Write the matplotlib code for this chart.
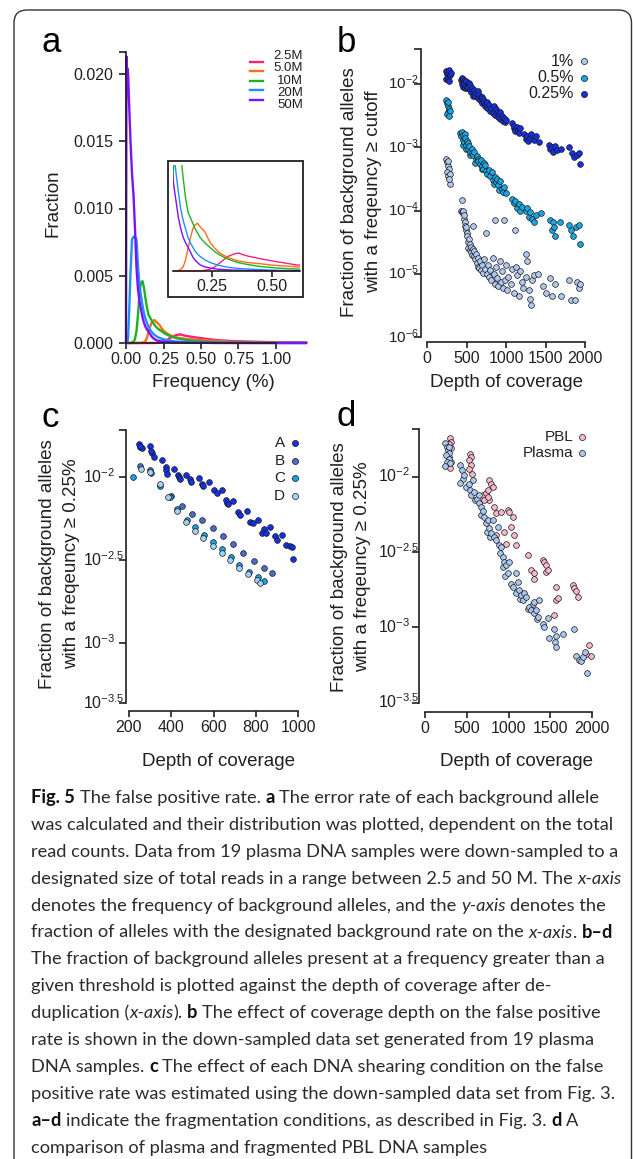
import re
import matplotlib
matplotlib.use("Agg")
import matplotlib.pyplot as plt
from matplotlib.patches import FancyBboxPatch, Rectangle
from matplotlib.lines import Line2D
from matplotlib.ticker import NullLocator
from matplotlib.transforms import blended_transform_factory, ScaledTranslation

# ---------------- data ----------------
# panel a: fraction of background alleles vs. allele frequency (%)
freq_pct = [0, 0.003, 0.006, 0.010, 0.014, 0.02, 0.03, 0.04, 0.05, 0.06, 0.07, 0.08,
            0.09, 0.10, 0.11, 0.12, 0.13, 0.14, 0.15, 0.16, 0.17, 0.18, 0.19, 0.20,
            0.22, 0.24, 0.26, 0.28, 0.30, 0.32, 0.34, 0.36, 0.38, 0.40, 0.45, 0.50,
            0.55, 0.60, 0.70, 0.80, 0.90, 1.00, 1.10, 1.20]
frac_2_5M = [0, 0, 0, 0, 0, 0, 0, 0, 0, 0, 0, 0, 0, 0, 0, 0, 0, 0, 0, 0, 0, 0, 0, 0.00001,
             0.00002, 0.00006, 0.00014, 0.00027, 0.00041, 0.00053, 0.0006, 0.00064, 0.00058, 0.00053,
             0.00044, 0.00036, 0.00029, 0.00022, 0.00015, 0.00011, 0.00008, 0.00006, 0.00004, 0.00003]
frac_5_0M = [0, 0, 0, 0, 0, 0, 0, 0, 0, 0, 0, 0, 0, 0, 0.00002, 0.00006, 0.00015, 0.0004, 0.0008,
             0.00118, 0.0015, 0.00165, 0.0017, 0.00158,
             0.0014, 0.00105, 0.00082, 0.00066, 0.00055, 0.00047, 0.00041, 0.00036, 0.00033, 0.0003,
             0.00026, 0.00021, 0.00018, 0.00015, 0.0001, 0.00007, 0.00005, 0.00004, 0.00003, 0.00002]
frac_10M = [0, 0, 0, 0, 0, 0, 0, 0.00005, 0.0001, 0.0003, 0.0009, 0.0021, 0.0037, 0.0045, 0.0046,
            0.0041, 0.0033, 0.0026, 0.0021, 0.0019, 0.0017, 0.0015, 0.00135, 0.0012,
            0.001, 0.00085, 0.0007, 0.00058, 0.00049, 0.00041, 0.00035, 0.0003, 0.00026, 0.00023,
            0.00016, 0.00012, 0.00009, 0.00007, 0.00004, 0.00003, 0.00002, 0.00001, 0.00001, 0.00001]
frac_20M = [0, 0, 0, 0.0001, 0.0004, 0.0020, 0.0052, 0.0077, 0.0079, 0.0079, 0.0077, 0.0057, 0.0043,
            0.0035, 0.0028, 0.0022, 0.0018, 0.0015, 0.0012, 0.001, 0.00085, 0.0007, 0.0006, 0.00052,
            0.0004, 0.00031, 0.00025, 0.0002, 0.00016, 0.00013, 0.00011, 0.00009, 0.00008, 0.00007,
            0.00005, 0.00003, 0.00002, 0.00002, 0.00001, 0.00001, 0, 0, 0, 0]
frac_50M = [0, 0.0213, 0.0196, 0.0204, 0.0200, 0.0180, 0.0150, 0.0126, 0.0110, 0.0085, 0.0056, 0.0040,
            0.0031, 0.0025, 0.0019, 0.0015, 0.0012, 0.001, 0.00085, 0.00068, 0.0005, 0.00038,
            0.0003, 0.00022, 0.00015, 0.00011, 0.00008, 0.00006, 0.00005, 0.00004, 0.00003, 0.00003,
            0.00002, 0.00002, 0.00001, 0.00001, 0.00001, 0, 0, 0, 0, 0, 0, 0]
read_labels = ['2.5M', '5.0M', '10M', '20M', '50M']
read_colors = ['#ff1f7c', '#ff6d16', '#1fb21f', '#1e8fff', '#7f0fff']
a_xticks = [0, 0.25, 0.50, 0.75, 1.00]
a_yticks = [0, 0.005, 0.010, 0.015, 0.020]
inset_xticks = [0.25, 0.50]

# panel b: (depth of coverage, fraction >= cutoff)
b_cut_1pct = [(240, 6.5e-4), (250, 5.8e-4), (262, 5.0e-4), (270, 6.0e-4), (280, 4.5e-4), (255, 4.0e-4),
              (265, 3.5e-4), (285, 3.8e-4), (290, 2.6e-4), (275, 3.2e-4),
              (430, 1.0e-4), (440, 1.45e-4), (445, 9.5e-5), (452, 9.0e-5), (460, 9.8e-5), (465, 7.5e-5),
              (470, 8.5e-5), (475, 6.5e-5), (480, 5.8e-5), (490, 5.0e-5), (498, 5.5e-5), (505, 4.5e-5),
              (512, 4.0e-5), (520, 3.2e-5), (525, 2.6e-5), (530, 3.5e-5), (538, 2.4e-5), (545, 3.0e-5),
              (555, 2.2e-5), (562, 2.7e-5), (570, 2.0e-5), (578, 2.5e-5), (586, 5.8e-5), (590, 1.9e-5),
              (600, 2.3e-5), (610, 1.7e-5), (620, 2.1e-5), (632, 1.5e-5), (640, 1.3e-5), (650, 1.8e-5),
              (660, 1.25e-5), (672, 1.6e-5), (685, 1.15e-5), (695, 1.4e-5), (710, 1.05e-5), (725, 1.7e-5),
              (740, 1.2e-5), (746, 4.5e-5), (755, 1.0e-5), (770, 1.4e-5), (785, 9.0e-6), (800, 1.15e-5),
              (815, 8.0e-6), (830, 1.8e-5), (845, 1.0e-5), (860, 7.2e-5), (862, 7.0e-6), (875, 1.3e-5),
              (890, 8.5e-6), (905, 6.5e-6), (920, 1.6e-5), (935, 7.5e-6), (950, 1.1e-5), (965, 6.0e-6),
              (979, 7.2e-5), (985, 8.0e-6), (1000, 1.4e-5), (1015, 5.5e-6), (1030, 9.0e-6), (1060, 7.0e-6),
              (1080, 1.2e-5), (1100, 5.0e-6), (1118, 5.0e-5), (1125, 1.3e-5), (1140, 9.5e-6), (1160, 4.5e-6),
              (1175, 1.1e-5), (1200, 7.5e-6), (1220, 6.0e-6), (1250, 2.1e-5), (1255, 9.0e-6), (1270, 1.6e-5),
              (1285, 5.5e-6), (1300, 4.0e-6), (1316, 3.2e-6), (1330, 8.0e-6), (1350, 9.5e-6), (1400, 1.0e-5),
              (1470, 6.5e-6), (1500, 5.0e-6), (1560, 8.5e-6), (1580, 4.5e-6), (1620, 7.0e-6), (1700, 4.5e-6),
              (1800, 8.0e-6), (1820, 3.8e-6), (1870, 3.8e-6), (1900, 7.5e-6), (1930, 6.0e-6), (1940, 7.0e-6)]
b_cut_05pct = [(240, 5.5e-3), (250, 5.0e-3), (262, 4.5e-3), (270, 5.2e-3), (280, 4.0e-3), (265, 3.6e-3),
               (255, 3.3e-3), (290, 3.8e-3), (275, 3.1e-3),
               (420, 1.7e-3), (430, 1.5e-3), (440, 1.75e-3), (450, 1.3e-3), (455, 1.1e-3), (460, 1.55e-3),
               (470, 1.2e-3), (475, 1.6e-3), (480, 1.4e-3), (490, 9.5e-4), (495, 1.1e-3), (505, 1.25e-3),
               (515, 1.15e-3), (520, 9.5e-4), (535, 1.05e-3), (545, 7.5e-4), (550, 8.5e-4), (565, 9.5e-4),
               (575, 8.0e-4), (580, 7.5e-4), (600, 8.5e-4), (610, 5.6e-4), (615, 6.5e-4), (630, 7.2e-4),
               (640, 6.6e-4), (650, 6.0e-4), (665, 5.5e-4), (680, 6.2e-4), (690, 4.6e-4), (700, 5.0e-4),
               (715, 4.5e-4), (720, 5.6e-4), (730, 5.2e-4), (745, 4.2e-4), (760, 3.8e-4), (780, 4.4e-4),
               (800, 3.5e-4), (820, 4.0e-4), (840, 3.0e-4), (850, 2.6e-4), (860, 3.4e-4), (875, 2.8e-4),
               (890, 3.1e-4), (905, 2.5e-4), (915, 2.1e-4), (925, 2.9e-4), (945, 2.2e-4), (960, 2.0e-4),
               (980, 2.4e-4), (1000, 1.9e-4), (1080, 1.5e-4), (1100, 1.3e-4), (1120, 1.4e-4), (1140, 1.1e-4),
               (1160, 1.25e-4), (1180, 1.0e-4), (1200, 1.15e-4), (1250, 1.0e-4), (1270, 1.1e-4), (1290, 8.0e-5),
               (1310, 9.5e-5), (1330, 7.5e-5), (1350, 6.5e-5), (1380, 8.5e-5), (1440, 9.0e-5), (1560, 7.0e-5),
               (1580, 5.0e-5), (1600, 6.5e-5), (1610, 5.5e-5), (1620, 4.0e-5), (1680, 6.5e-5), (1800, 6.0e-5),
               (1820, 5.0e-5), (1850, 4.0e-5), (1880, 5.5e-5), (1920, 6.0e-5), (1940, 3.0e-5)]
b_cut_025pct = [(235, 1.6e-2), (250, 1.45e-2), (262, 1.5e-2), (270, 1.3e-2), (280, 1.65e-2), (285, 1.4e-2),
                (245, 1.2e-2), (262, 1.15e-2), (300, 1.5e-2), (275, 1.1e-2),
                (430, 1.15e-2), (440, 1.0e-2), (445, 1.25e-2), (455, 1.2e-2), (460, 9.0e-3), (465, 1.12e-2),
                (470, 1.05e-2), (480, 9.5e-3), (485, 8.5e-3), (495, 1.1e-2), (505, 8.5e-3), (515, 1.0e-2),
                (525, 9.0e-3), (530, 1.02e-2), (540, 8.0e-3), (550, 9.5e-3), (560, 7.5e-3), (575, 8.5e-3),
                (585, 6.5e-3), (590, 7.0e-3), (600, 8.0e-3), (610, 6.5e-3), (625, 7.2e-3), (640, 6.0e-3),
                (650, 7.8e-3), (655, 6.8e-3), (665, 5.5e-3), (680, 6.2e-3), (695, 5.0e-3), (700, 6.2e-3),
                (705, 5.8e-3), (720, 5.2e-3), (735, 4.5e-3), (745, 5.0e-3), (755, 5.2e-3), (760, 4.2e-3),
                (780, 4.6e-3), (800, 3.8e-3), (815, 4.2e-3), (830, 3.5e-3), (845, 4.5e-3), (860, 3.2e-3),
                (870, 4.0e-3), (880, 3.6e-3), (895, 3.0e-3), (910, 3.3e-3), (920, 3.6e-3), (930, 2.8e-3),
                (945, 3.1e-3), (960, 2.6e-3), (975, 2.9e-3), (990, 2.5e-3), (1000, 2.7e-3),
                (1080, 2.4e-3), (1095, 2.0e-3), (1105, 2.2e-3), (1120, 1.8e-3), (1135, 2.1e-3), (1150, 1.9e-3),
                (1165, 1.7e-3), (1180, 2.0e-3), (1230, 1.6e-3), (1250, 1.35e-3), (1265, 1.5e-3), (1280, 1.25e-3),
                (1300, 1.4e-3), (1320, 1.6e-3), (1350, 1.3e-3), (1380, 1.5e-3), (1420, 1.2e-3), (1540, 1.1e-3),
                (1560, 9.5e-4), (1580, 1.0e-3), (1600, 8.5e-4), (1620, 1.05e-3), (1650, 9.0e-4), (1690, 9.5e-4),
                (1800, 1.0e-3), (1830, 8.0e-4), (1860, 7.0e-4), (1900, 7.5e-4), (1930, 8.0e-4), (1940, 5.5e-4)]
b_labels = ['1%', '0.5%', '0.25%']
b_colors = ['#b1c9ef', '#17a7e3', '#1530e2']
b_exponents = [-2, -3, -4, -5, -6]
depth_ticks_b = [0, 500, 1000, 1500, 2000]

# panel c: shearing conditions A-D (depth, fraction >= 0.25%)
c_cond_A = [(247, 1.59e-2), (254, 1.53e-2), (262, 1.50e-2), (250, 1.55e-2), (301, 1.55e-2), (311, 1.41e-2),
            (317, 1.32e-2), (305, 1.45e-2), (358, 1.27e-2), (373, 1.15e-2), (377, 1.11e-2), (380, 1.05e-2),
            (412, 1.12e-2), (433, 1.03e-2), (438, 1.0e-2), (440, 9.8e-3), (469, 1.03e-2), (488, 9.7e-3),
            (493, 9.4e-3), (530, 9.95e-3), (544, 9.1e-3), (552, 8.9e-3), (580, 9.4e-3), (604, 8.4e-3),
            (615, 8.0e-3), (639, 8.4e-3), (665, 7.0e-3), (660, 7.3e-3), (671, 6.9e-3), (694, 7.2e-3),
            (718, 6.2e-3), (726, 5.9e-3), (758, 6.25e-3), (774, 5.4e-3), (786, 5.3e-3), (810, 5.5e-3),
            (837, 4.9e-3), (830, 4.6e-3), (850, 4.6e-3), (866, 5.0e-3), (893, 4.4e-3), (900, 4.2e-3),
            (924, 4.5e-3), (945, 3.9e-3), (961, 3.85e-3), (973, 3.8e-3), (975, 3.2e-3)]
c_cond_B = [(254, 1.17e-2), (301, 1.11e-2), (398, 7.7e-3), (449, 6.7e-3), (500, 6.0e-3), (547, 5.5e-3),
            (596, 4.97e-3), (644, 4.42e-3), (694, 3.94e-3), (742, 3.5e-3), (793, 3.13e-3), (840, 2.86e-3),
            (878, 2.65e-3)]
c_cond_C = [(219, 1.0e-2), (306, 1.06e-2), (346, 8.9e-3), (393, 7.6e-3), (428, 6.4e-3), (473, 5.5e-3),
            (512, 5.0e-3), (555, 4.5e-3), (599, 4.1e-3), (639, 3.7e-3), (682, 3.3e-3), (723, 2.95e-3),
            (766, 2.69e-3), (809, 2.5e-3), (837, 2.37e-3)]
c_cond_D = [(259, 1.12e-2), (301, 1.07e-2), (346, 9.1e-3), (385, 7.6e-3), (428, 6.3e-3), (469, 5.4e-3),
            (512, 4.75e-3), (552, 4.3e-3), (596, 3.85e-3), (639, 3.5e-3), (679, 3.16e-3), (723, 2.86e-3),
            (761, 2.6e-3), (805, 2.4e-3), (818, 2.32e-3)]
c_labels = ['A', 'B', 'C', 'D']
c_colors = ['#1431e0', '#4e6cc6', '#16a2e4', '#a3d3f3']
cd_exponents = [-2, -2.5, -3, -3.5]
depth_ticks_c = [200, 400, 600, 800, 1000]

# panel d: PBL vs plasma (depth, fraction >= 0.25%)
d_pbl = [(299, 1.8e-2), (311, 1.7e-2), (291, 1.66e-2), (307, 1.54e-2), (291, 1.36e-2), (311, 1.26e-2),
         (299, 1.15e-2), (539, 1.41e-2), (551, 1.36e-2), (531, 1.29e-2), (551, 1.19e-2), (523, 1.12e-2),
         (563, 1.05e-2), (691, 7.55e-3), (731, 7.75e-3), (751, 8.2e-3), (770, 9.5e-3), (790, 9.0e-3),
         (770, 7.0e-3), (810, 8.6e-3), (711, 7.0e-3), (751, 7.3e-3), (830, 6.3e-3), (850, 5.7e-3),
         (910, 5.85e-3), (990, 6.0e-3), (1010, 5.8e-3), (1050, 5.4e-3), (1030, 4.65e-3), (1070, 4.1e-3),
         (850, 4.1e-3), (950, 4.3e-3), (970, 3.6e-3), (1090, 3.5e-3), (1230, 3.0e-3), (1269, 2.4e-3),
         (1309, 2.1e-3), (1309, 2.3e-3), (1409, 2.8e-3), (1429, 2.73e-3), (1449, 2.6e-3), (1449, 2.34e-3),
         (1469, 2.4e-3), (1569, 1.86e-3), (1569, 1.52e-3), (1589, 1.56e-3), (1549, 1.21e-3), (1768, 1.91e-3),
         (1788, 1.82e-3), (1808, 1.75e-3), (1828, 1.6e-3), (1968, 7.6e-4), (1988, 6.5e-4), (1928, 6.65e-4)]
d_plasma = [(244, 1.68e-2), (259, 1.58e-2), (275, 1.5e-2), (291, 1.44e-2), (251, 1.39e-2), (283, 1.32e-2),
            (259, 1.26e-2), (299, 1.23e-2), (244, 1.18e-2), (291, 1.58e-2),
            (419, 1.19e-2), (443, 1.11e-2), (451, 9.6e-3), (471, 1.03e-2), (419, 9.1e-3), (491, 8.6e-3),
            (523, 8.9e-3), (539, 8.2e-3), (551, 7.6e-3), (571, 9.5e-3), (591, 7.9e-3), (603, 7.0e-3),
            (619, 7.1e-3), (643, 7.6e-3), (651, 6.65e-3), (671, 6.3e-3), (671, 5.6e-3), (691, 5.95e-3),
            (711, 5.4e-3), (731, 4.9e-3), (739, 4.3e-3), (751, 5.15e-3), (770, 4.55e-3), (778, 4.0e-3),
            (790, 4.25e-3), (810, 5.15e-3), (830, 4.0e-3), (850, 3.8e-3), (870, 4.65e-3), (882, 3.5e-3),
            (898, 3.1e-3), (910, 3.4e-3), (930, 2.94e-3), (930, 2.53e-3), (950, 2.73e-3), (962, 2.2e-3),
            (970, 2.6e-3), (990, 2.28e-3), (1010, 2.73e-3), (1030, 1.95e-3), (1050, 1.86e-3), (1090, 2.28e-3),
            (1090, 1.68e-3), (1110, 2.0e-3), (1130, 1.77e-3), (1138, 1.55e-3), (1150, 1.64e-3), (1170, 1.52e-3),
            (1190, 1.68e-3), (1210, 1.6e-3), (1230, 1.32e-3), (1250, 1.37e-3), (1269, 1.3e-3), (1289, 1.44e-3),
            (1309, 1.24e-3), (1309, 1.48e-3), (1329, 1.3e-3), (1337, 1.14e-3), (1349, 1.18e-3), (1369, 1.52e-3),
            (1409, 1.06e-3), (1429, 1.01e-3), (1469, 1.15e-3), (1489, 8.5e-4), (1549, 9.8e-4), (1561, 8.0e-4),
            (1569, 8.7e-4), (1569, 7.4e-4), (1649, 9.1e-4), (1788, 9.7e-4), (1808, 6.5e-4), (1848, 6.1e-4),
            (1868, 6.0e-4), (1888, 6.4e-4), (1920, 6.9e-4), (1936, 4.95e-4)]
d_labels = ['PBL', 'Plasma']
d_colors = ['#f5b8cc', '#a9c7ef']
depth_ticks_d = [0, 500, 1000, 1500, 2000]

caption_lines = [
    "**Fig. 5** The false positive rate. **a** The error rate of each background allele",
    "was calculated and their distribution was plotted, dependent on the total",
    "read counts. Data from 19 plasma DNA samples were down-sampled to a",
    "designated size of total reads in a range between 2.5 and 50 M. The *x-axis*",
    "denotes the frequency of background alleles, and the *y-axis* denotes the",
    "fraction of alleles with the designated background rate on the *x-axis*. **b\u2013d**",
    "The fraction of background alleles present at a frequency greater than a",
    "given threshold is plotted against the depth of coverage after de-",
    "duplication (*x-axis*). **b** The effect of coverage depth on the false positive",
    "rate is shown in the down-sampled data set generated from 19 plasma",
    "DNA samples. **c** The effect of each DNA shearing condition on the false",
    "positive rate was estimated using the down-sampled data set from Fig. 3.",
    "**a\u2013d** indicate the fragmentation conditions, as described in Fig. 3. **d** A",
    "comparison of plasma and fragmented PBL DNA samples",
]

# ---------------- figure ----------------
W, H = 633, 1159
INK = '#231f20'
plt.rcParams['font.family'] = ['Liberation Sans', 'DejaVu Sans']
plt.rcParams['mathtext.fontset'] = 'custom'
plt.rcParams['mathtext.rm'] = 'Liberation Sans'
fig = plt.figure(figsize=(W / 100, H / 100), dpi=100, facecolor='white')


def fx(x):
    return x / W


def fy(y):
    return 1 - y / H


def px_axes(x0, x1, ytop, ybot):
    return fig.add_axes([x0 / W, 1 - ybot / H, (x1 - x0) / W, (ybot - ytop) / H])


def lin_lim(pa, va, pb, vb, plo, phi):
    s = (vb - va) / (pb - pa)
    return va + (plo - pa) * s, va + (phi - pa) * s


def style(ax, fs=11.5):
    ax.patch.set_visible(False)
    for s in ('top', 'right'):
        ax.spines[s].set_visible(False)
    for s in ('left', 'bottom'):
        ax.spines[s].set_linewidth(1.2)
        ax.spines[s].set_color(INK)
    ax.tick_params(axis='both', which='major', direction='out', width=1.2,
                   color=INK, labelcolor=INK, labelsize=fs)
    ax.tick_params(axis='y', length=5.3, pad=3.8)
    ax.tick_params(axis='x', length=4.5, pad=2.2)


def log_label(e):
    return r'$\mathregular{10^{%s}}$' % ('%g' % e)


def log_ticklabels(ax, values, labels, x_left_px, fs):
    # R-style labels: the "10" of every label starts at the same x
    ax.tick_params(axis='y', labelleft=False)
    tr = blended_transform_factory(fig.transFigure, ax.transData) + \
        ScaledTranslation(0, -0.36 * fs / 72, fig.dpi_scale_trans)
    for v, lab in zip(values, labels):
        ax.text(fx(x_left_px), v, lab, transform=tr, ha='left', va='baseline',
                fontsize=fs, color=INK, clip_on=False)


def dots(ax, pairs, color, s=17):
    xs, ys = zip(*pairs)
    ax.scatter(xs, ys, s=s, c=color, edgecolors='#1a1a1a', linewidths=0.5, zorder=3, clip_on=False)


def dot_legend(xt, xm, ys, labels, colors, fs):
    for y, lab, col in zip(ys, labels, colors):
        fig.text(fx(xt), fy(y), lab, ha='right', va='center', fontsize=fs, color=INK)
        fig.add_artist(Line2D([fx(xm)], [fy(y)], transform=fig.transFigure, marker='o', ms=4.4,
                              mfc=col, mec='#1a1a1a', mew=0.5, ls='none'))


# outer rounded frame
fig.add_artist(FancyBboxPatch((fx(14), fy(1185)), (631.5 - 14) / W, (1185 - 10) / H,
                              boxstyle="round,pad=0,rounding_size=%f" % (13 / W),
                              mutation_aspect=W / H, transform=fig.transFigure,
                              fill=False, lw=1.0, ec='#333333'))

# ---- panel a ----
curves = [frac_2_5M, frac_5_0M, frac_10M, frac_20M, frac_50M]
axA = px_axes(126, 307, 52, 343)
style(axA)
axA.set_xlim(*lin_lim(126, 0.0, 276, 1.0, 126, 307))
a_ylim = lin_lim(343, 0.0, 74, 0.020, 343, 52)
axA.set_ylim(*a_ylim)
for ys, col in zip(curves, read_colors):
    axA.plot(freq_pct, ys, color=col, lw=1.7, solid_joinstyle='round', clip_on=False)
axA.set_xticks(a_xticks, ['%.2f' % v for v in a_xticks])
axA.set_yticks(a_yticks + [a_ylim[1]], ['%.3f' % v for v in a_yticks] + [''])
axA.spines['left'].set_bounds(0, a_ylim[1])
axA.spines['bottom'].set_bounds(0, 1.0)

# inset
fig.add_artist(Rectangle((fx(167.5), fy(297)), (303 - 167.5) / W, (297 - 161) / H,
                         transform=fig.transFigure, fill=False, lw=1.3, ec=INK))
axI = px_axes(172.7, 300, 165, 274)
axI.patch.set_visible(False)
axI.set_xlim(*lin_lim(212, 0.25, 272, 0.50, 172.7, 300))
axI.set_ylim(*lin_lim(271, 0.0, 223.3, 0.0017, 274, 165))
for ys, col in zip(curves, read_colors):
    axI.plot(freq_pct, ys, color=col, lw=1.0)
for s in ('top', 'right', 'left'):
    axI.spines[s].set_visible(False)
axI.spines['bottom'].set_position(('data', 0))
axI.spines['bottom'].set_linewidth(1.2)
axI.spines['bottom'].set_color(INK)
axI.set_yticks([])
axI.set_xticks(inset_xticks, ['%.2f' % v for v in inset_xticks])
axI.tick_params(axis='x', direction='out', length=4.3, width=1.2, color=INK, labelcolor=INK,
                labelsize=11.5, pad=1.5)

# legend a: line keys plus one right-aligned block of labels
legend_rows = [61.5, 71, 80.5, 90, 99.5]
for y, col in zip(legend_rows, read_colors):
    fig.add_artist(Line2D([fx(250), fx(263)], [fy(y), fy(y)], transform=fig.transFigure,
                          color=col, lw=1.7))
fig.text(fx(303), fy(legend_rows[2]), '\n'.join(read_labels), ha='right', va='center',
         multialignment='right', linespacing=1.02, fontsize=9.5, color=INK)

# ---- panel b ----
axB = px_axes(421, 600, 49, 342)
style(axB)
axB.set_yscale('log')
axB.set_xlim(*lin_lim(427, 0, 585, 2000, 421, 600))
eb = lin_lim(84, -2, 147.3, -3, 342, 49)
axB.set_ylim(10 ** eb[0], 10 ** eb[1])
for pairs, col in zip([b_cut_1pct, b_cut_05pct, b_cut_025pct], b_colors):
    dots(axB, pairs, col)
axB.set_yticks([10.0 ** e for e in b_exponents] + [10 ** eb[1]])
log_ticklabels(axB, [10.0 ** e for e in b_exponents], [log_label(e) for e in b_exponents], 388, 11)
axB.set_xticks(depth_ticks_b, [str(v) for v in depth_ticks_b])
axB.yaxis.set_minor_locator(NullLocator())
axB.spines['left'].set_bounds(1e-6, 10 ** eb[1])
axB.spines['bottom'].set_bounds(0, 2000)
dot_legend(574, 584, [61, 77.5, 94], b_labels, b_colors, 11.5)

# ---- panel c ----
axC = px_axes(125.5, 310, 430, 711)
style(axC)
axC.set_yscale('log')
axC.set_xlim(*lin_lim(129, 200, 298, 1000, 125.5, 310))
ec = lin_lim(477.3, -2, 643.3, -3, 711, 430)
ec_bottom = lin_lim(477.3, -2, 643.3, -3, 703, 703)[0]
axC.set_ylim(10 ** ec[0], 10 ** ec[1])
for pairs, col in zip([c_cond_A, c_cond_B, c_cond_C, c_cond_D], c_colors):
    dots(axC, pairs, col)
c_tick_vals = [1e-2, 10 ** -2.5, 1e-3, 10 ** ec_bottom]
axC.set_yticks(c_tick_vals + [10 ** ec[1]])
log_ticklabels(axC, c_tick_vals, [log_label(e) for e in cd_exponents], 83, 11.5)
axC.set_xticks(depth_ticks_c, [str(v) for v in depth_ticks_c])
axC.yaxis.set_minor_locator(NullLocator())
axC.spines['left'].set_bounds(10 ** ec_bottom, 10 ** ec[1])
axC.spines['bottom'].set_bounds(200, 1000)
dot_legend(285, 295, [443, 461, 478, 496], c_labels, c_colors, 11)

# ---- panel d ----
axD = px_axes(418.5, 610, 429, 712)
style(axD)
axD.set_yscale('log')
axD.set_xlim(*lin_lim(425, 0, 592, 2000, 418.5, 610))
ed = lin_lim(476.7, -2, 702.7, -3.5, 712, 429)
axD.set_ylim(10 ** ed[0], 10 ** ed[1])
dots(axD, d_pbl, d_colors[0])
dots(axD, d_plasma, d_colors[1])
d_tick_vals = [10.0 ** e for e in cd_exponents]
axD.set_yticks(d_tick_vals + [10 ** ed[1]])
log_ticklabels(axD, d_tick_vals, [log_label(e) for e in cd_exponents], 378, 11.5)
axD.set_xticks(depth_ticks_d, [str(v) for v in depth_ticks_d])
axD.yaxis.set_minor_locator(NullLocator())
axD.spines['left'].set_bounds(10 ** -3.5, 10 ** ed[1])
axD.spines['bottom'].set_bounds(0, 2000)
dot_legend(573, 582, [437, 453], d_labels, d_colors, 11)

# ---- axis labels and panel letters ----
LAB = dict(fontsize=13.5, color=INK, ha='center', va='center')
fig.text(fx(53), fy(203), 'Fraction', rotation=90, **LAB)
fig.text(fx(213), fy(383), 'Frequency (%)', **LAB)
fig.text(fx(349), fy(192), 'Fraction of background alleles', rotation=90, **LAB)
fig.text(fx(374), fy(192), 'with a freqeuncy \u2265 cutoff', rotation=90, **LAB)
fig.text(fx(506), fy(383), 'Depth of coverage', **LAB)
fig.text(fx(48), fy(564), 'Fraction of background alleles', rotation=90, **LAB)
fig.text(fx(72), fy(564), 'with a freqeuncy \u2265 0.25%', rotation=90, **LAB)
fig.text(fx(218), fy(762), 'Depth of coverage', **LAB)
fig.text(fx(339), fy(567), 'Fraction of background alleles', rotation=90, **LAB)
fig.text(fx(363), fy(567), 'with a freqeuncy \u2265 0.25%', rotation=90, **LAB)
fig.text(fx(516), fy(762), 'Depth of coverage', **LAB)
for letter, x, y in [('a', 51, 52), ('b', 346, 52), ('c', 50, 427), ('d', 346, 426)]:
    fig.text(fx(x), fy(y), letter, fontsize=25, ha='center', va='baseline', color='black')

# ---- caption ----
renderer = fig.canvas.get_renderer()
CAP_FAM = ['Lato', 'DejaVu Sans']
STY = {
    'r': dict(family=CAP_FAM, color='#2b2b2b'),
    'b': dict(family=CAP_FAM, color='#111111', weight='bold'),
    'i': dict(family=CAP_FAM, color='#2b2b2b', style='italic'),
}


def parse(line):
    out = []
    for part in re.split(r'(\*\*[^*]+\*\*|\*[^*]+\*)', line):
        if not part:
            continue
        if part.startswith('**'):
            out.append(('b', part[2:-2]))
        elif part.startswith('*'):
            out.append(('i', part[1:-1]))
        else:
            out.append(('r', part))
    return out


def measure(s, fs, key):
    t = fig.text(0, 0, s, fontsize=fs, **STY[key])
    w = t.get_window_extent(renderer=renderer).width
    t.remove()
    return w


def layout_line(line, fs, x0, ybase, draw):
    sw = measure('n n', fs, 'r') - measure('nn', fs, 'r')
    x = x0
    for key, seg in parse(line):
        lead = len(seg) - len(seg.lstrip(' '))
        trail = len(seg) - len(seg.rstrip(' '))
        core = seg.strip(' ')
        x += lead * sw
        if core:
            if draw:
                fig.text(fx(x), fy(ybase), core, fontsize=fs, ha='left', va='baseline', **STY[key])
            x += measure(core, fs, key)
        x += trail * sw
    return x - x0


fs0 = 13.0
w_ref = layout_line(caption_lines[2], fs0, 0, 0, False)
cap_fs = fs0 * 588.0 / w_ref
for i, line in enumerate(caption_lines):
    layout_line(line, cap_fs, 31, 798 + 26.9 * i + 5, True)

fig.savefig('out.png', dpi=100, facecolor='white')
